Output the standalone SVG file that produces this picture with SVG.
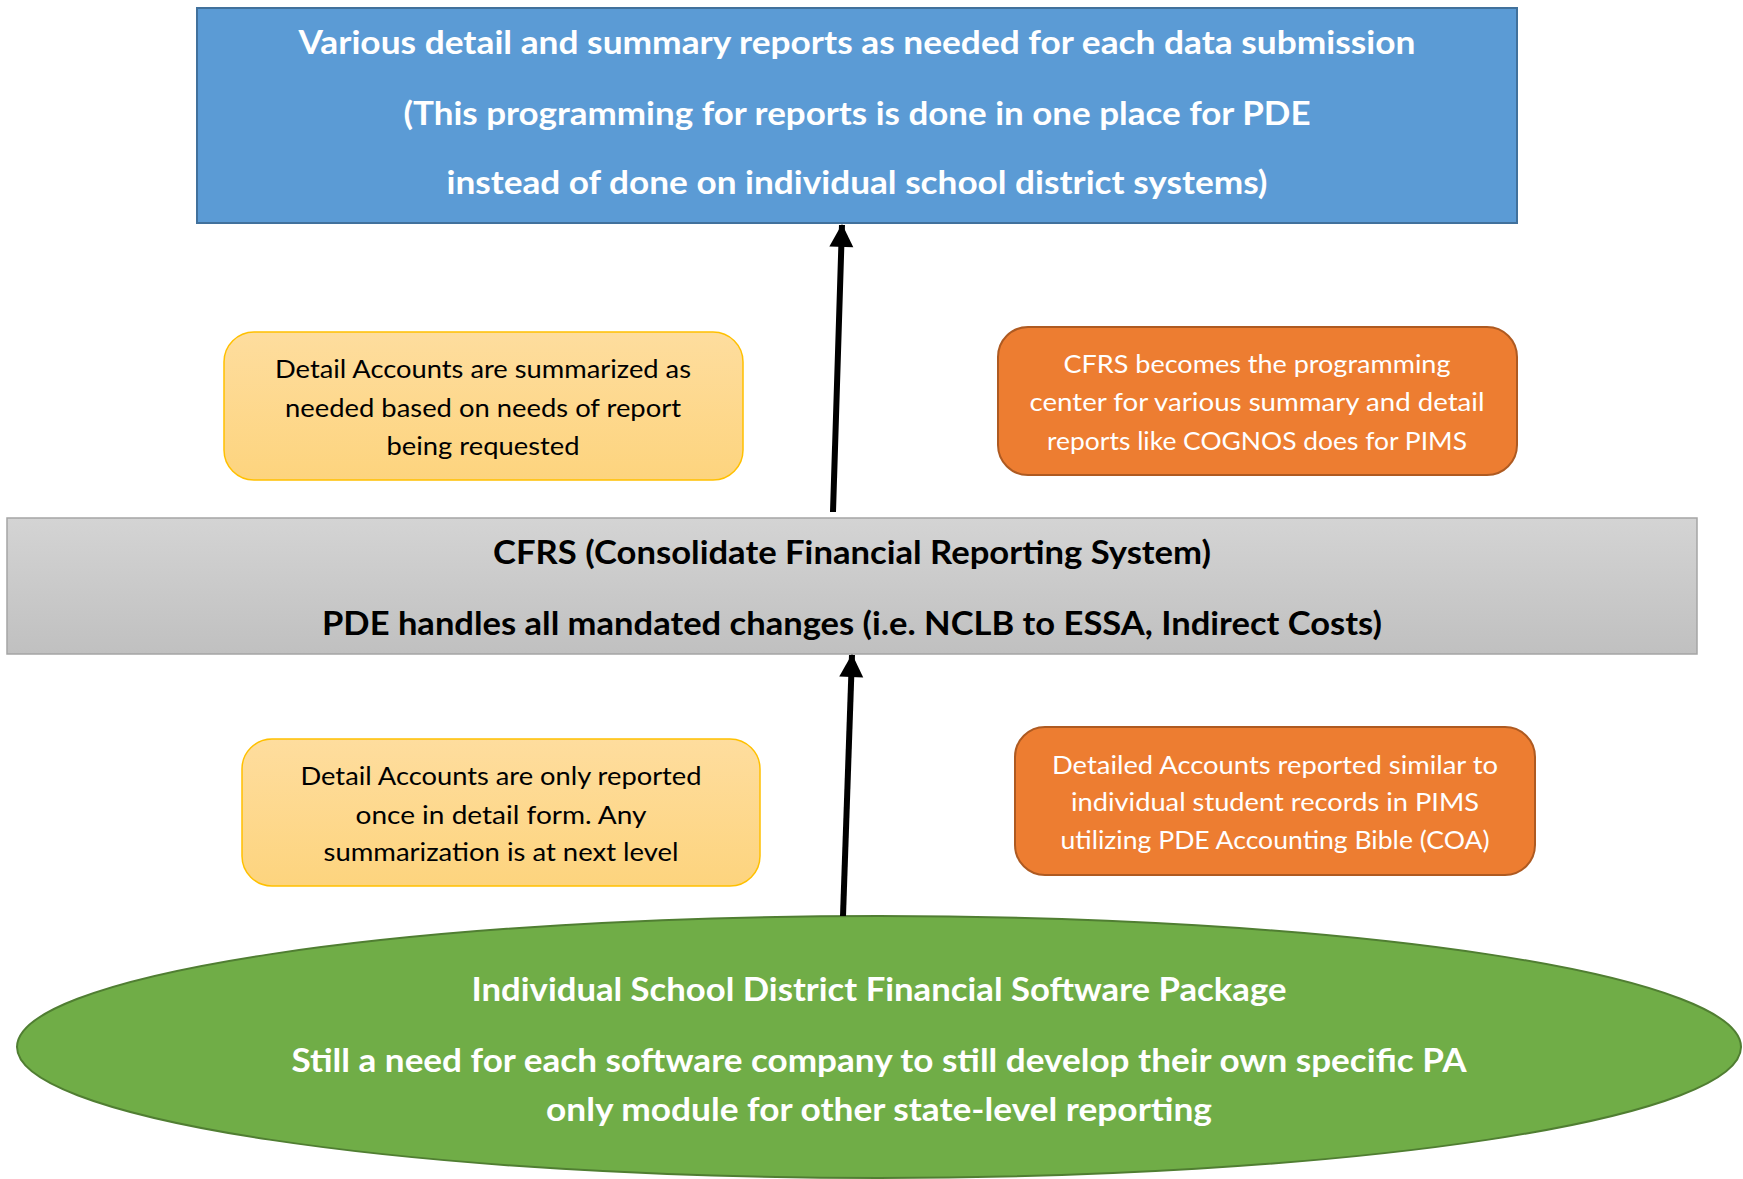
<svg xmlns="http://www.w3.org/2000/svg" width="1743" height="1179" viewBox="0 0 1743 1179">
<style>
.b{font-family:Lato,"Open Sans","Liberation Sans",sans-serif;font-weight:bold;font-size:32px;text-anchor:middle}
.r{font-family:Lato,"Open Sans","Liberation Sans",sans-serif;font-size:25px;text-anchor:middle}
.w{fill:#ffffff}
.k{fill:#000000}
.conn{stroke:#000;stroke-width:6;fill:none}
</style>
<defs>
<linearGradient id="gGray" x1="0" y1="0" x2="0" y2="1"><stop offset="0" stop-color="#d4d4d4"/><stop offset="1" stop-color="#c0c0c0"/></linearGradient>
<linearGradient id="gYel" x1="0" y1="0" x2="0" y2="1"><stop offset="0" stop-color="#fedd9e"/><stop offset="1" stop-color="#fdd47e"/></linearGradient>
<marker id="ah" markerWidth="24" markerHeight="24" refX="22" refY="12" orient="auto" markerUnits="userSpaceOnUse" viewBox="0 0 24 24" overflow="visible"><path d="M0,0 L23,12 L0,24 Z" fill="#000"/></marker>
</defs>

<g id="reports">
<rect x="197" y="8" width="1320" height="215" fill="#5b9bd5" stroke="#41719c" stroke-width="2"/>
<text class="b w" x="857" y="54" textLength="1117" lengthAdjust="spacingAndGlyphs">Various detail and summary reports as needed for each data submission</text>
<text class="b w" x="857" y="125" textLength="907" lengthAdjust="spacingAndGlyphs">(This programming for reports is done in one place for PDE</text>
<text class="b w" x="857" y="194" textLength="821" lengthAdjust="spacingAndGlyphs">instead of done on individual school district systems)</text>
</g>

<g id="note-summarized">
<rect x="224" y="332" width="519" height="148" rx="30" fill="url(#gYel)" stroke="#ffc000" stroke-width="1.5"/>
<text class="r k" x="483" y="378" textLength="416" lengthAdjust="spacingAndGlyphs">Detail Accounts are summarized as</text>
<text class="r k" x="483" y="417" textLength="396" lengthAdjust="spacingAndGlyphs">needed based on needs of report</text>
<text class="r k" x="483" y="455" textLength="193" lengthAdjust="spacingAndGlyphs">being requested</text>
</g>

<g id="note-cfrs-center">
<rect x="998" y="327" width="519" height="148" rx="30" fill="#ed7d31" stroke="#ae5a21" stroke-width="2"/>
<text class="r w" x="1257" y="373" textLength="387" lengthAdjust="spacingAndGlyphs">CFRS becomes the programming</text>
<text class="r w" x="1257" y="411" textLength="455" lengthAdjust="spacingAndGlyphs">center for various summary and detail</text>
<text class="r w" x="1257" y="450" textLength="420" lengthAdjust="spacingAndGlyphs">reports like COGNOS does for PIMS</text>
</g>

<g id="cfrs">
<rect x="7" y="518" width="1690" height="136" fill="url(#gGray)" stroke="#a5a5a5" stroke-width="1.5"/>
<text class="b k" x="852" y="564" textLength="718" lengthAdjust="spacingAndGlyphs">CFRS (Consolidate Financial Reporting System)</text>
<text class="b k" x="852" y="635" textLength="1060" lengthAdjust="spacingAndGlyphs">PDE handles all mandated changes (i.e. NCLB to ESSA, Indirect Costs)</text>
</g>

<g id="note-only-once">
<rect x="242" y="739" width="518" height="147" rx="30" fill="url(#gYel)" stroke="#ffc000" stroke-width="1.5"/>
<text class="r k" x="501" y="785" textLength="401" lengthAdjust="spacingAndGlyphs">Detail Accounts are only reported</text>
<text class="r k" x="501" y="824" textLength="291" lengthAdjust="spacingAndGlyphs">once in detail form.  Any</text>
<text class="r k" x="501" y="861" textLength="355" lengthAdjust="spacingAndGlyphs">summarization is at next level</text>
</g>

<g id="note-detailed">
<rect x="1015" y="727" width="520" height="148" rx="30" fill="#ed7d31" stroke="#ae5a21" stroke-width="2"/>
<text class="r w" x="1275" y="774" textLength="446" lengthAdjust="spacingAndGlyphs">Detailed Accounts reported similar to</text>
<text class="r w" x="1275" y="811" textLength="408" lengthAdjust="spacingAndGlyphs">individual student records in PIMS</text>
<text class="r w" x="1275" y="849" textLength="429" lengthAdjust="spacingAndGlyphs">utilizing PDE Accounting Bible (COA)</text>
</g>

<g id="district">
<ellipse cx="879" cy="1047" rx="862" ry="131" fill="#70ad47" stroke="#507e32" stroke-width="2"/>
<text class="b w" x="879" y="1001" textLength="815" lengthAdjust="spacingAndGlyphs">Individual School District Financial Software Package</text>
<text class="b w" x="879" y="1072" textLength="1175" lengthAdjust="spacingAndGlyphs">Still a need for each software company to still develop their own specific PA</text>
<text class="b w" x="879" y="1121" textLength="666" lengthAdjust="spacingAndGlyphs">only module for other state-level reporting</text>
</g>

<g id="connectors">
<line class="conn" x1="833" y1="512" x2="842" y2="225" marker-end="url(#ah)"/>
<line class="conn" x1="843" y1="916" x2="852" y2="655" marker-end="url(#ah)"/>
</g>
</svg>
